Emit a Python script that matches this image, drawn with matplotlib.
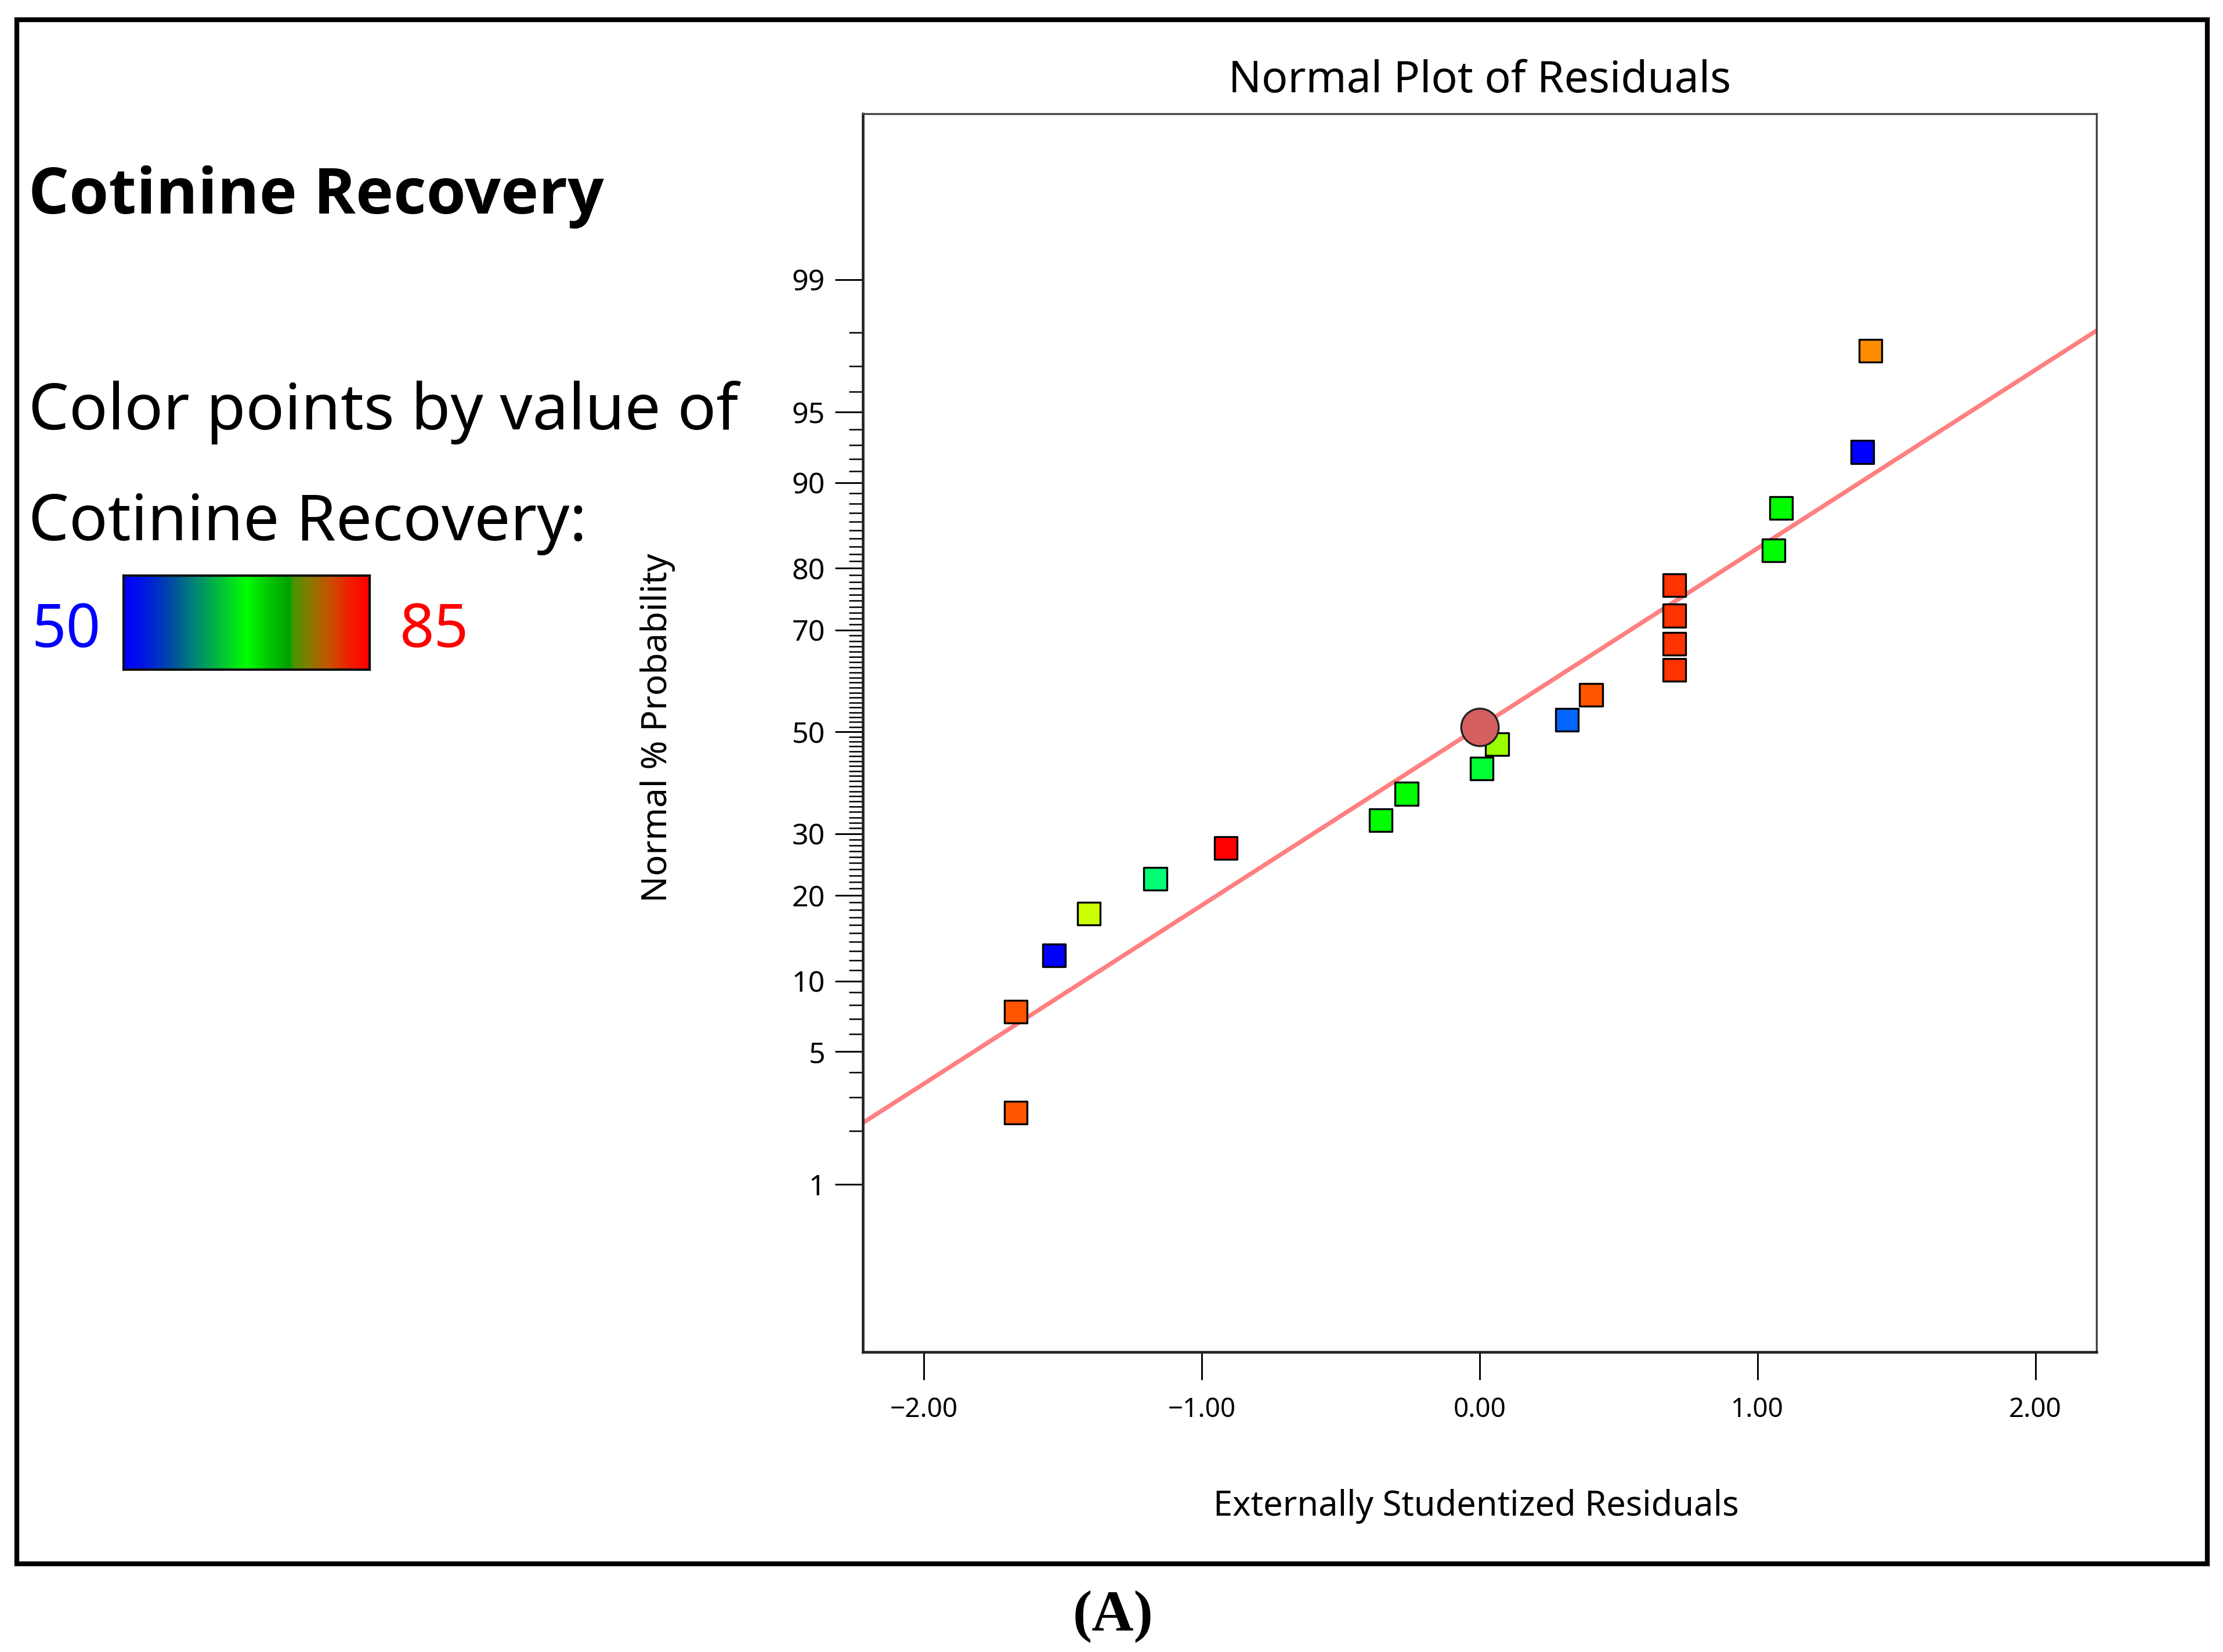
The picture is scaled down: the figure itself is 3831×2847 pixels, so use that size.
import matplotlib.pyplot as plt
import numpy as np
from matplotlib.colors import LinearSegmentedColormap
from matplotlib.patches import Rectangle
from statistics import NormalDist

# residuals (sorted) and their normal % probability
residuals = [-1.670, -1.670, -1.532, -1.407, -1.167, -0.914, -0.355, -0.263, 0.008, 0.063,
             0.315, 0.401, 0.701, 0.701, 0.701, 0.701, 1.058, 1.085, 1.378, 1.407]
probability = [2.5, 7.5, 12.5, 17.5, 22.5, 27.5, 32.5, 37.5, 42.5, 47.5,
               52.5, 57.5, 62.5, 67.5, 72.5, 77.5, 82.5, 87.5, 92.5, 97.5]
point_colors = ['#ff5500', '#ff5500', '#0000ff', '#ccff00', '#00ff77', '#ff0000',
                '#00ff00', '#00ff00', '#00ff33', '#99ff00', '#0066ff', '#ff5500',
                '#ff3300', '#ff3300', '#ff3300', '#ff3300', '#00ff00', '#00ff00',
                '#0000ff', '#ff8c00']

# highlighted point and the fitted reference line (normal score = a + b*x)
highlight_x = 0.0
highlight_p = 51.0
fit_intercept = 0.026
fit_slope = 0.918

y_major = [1, 5, 10, 20, 30, 50, 70, 80, 90, 95, 99]
y_minor = [p for p in range(2, 99) if p not in y_major]
x_ticks = [-2, -1, 0, 1, 2]
x_ticklabels = ['\u22122.00', '\u22121.00', '0.00', '1.00', '2.00']

cbar_low, cbar_high = 50, 85
cbar_nodes = [(0.0, (0, 0, 255)), (0.1, (0, 30, 220)), (0.2, (0, 80, 160)),
              (0.3, (0, 140, 110)), (0.39, (0, 190, 60)), (0.5, (0, 255, 0)),
              (0.58, (0, 205, 0)), (0.675, (0, 160, 0)), (0.69, (70, 150, 0)),
              (0.76, (140, 120, 0)), (0.84, (200, 80, 0)), (0.92, (240, 30, 0)),
              (1.0, (255, 0, 0))]

nd = NormalDist()
def probit(p):
    return nd.inv_cdf(p / 100.0)

plt.rcParams['font.family'] = ['Noto Sans', 'DejaVu Sans']

fig = plt.figure(figsize=(3831 / 300, 2847 / 300), dpi=300)

# outer frame
fig.patches.append(Rectangle((0.0077, 0.0534), 0.9853, 0.9346, transform=fig.transFigure,
                             fill=False, lw=2.0, ec='black'))

ax = fig.add_axes([0.3881, 0.1816, 0.5550, 0.7496])
ax.set_xlim(-2.22, 2.22)
ax.set_ylim(-3.19, 3.18)

xs = np.array([-2.22, 2.22])
ax.plot(xs, fit_intercept + fit_slope * xs, color='#ff8080', lw=1.8, zorder=2)

ax.scatter(residuals, [probit(p) for p in probability], marker='s', s=9.4 ** 2,
           c=point_colors, edgecolors='black', linewidths=0.8, zorder=3)
ax.scatter([highlight_x], [probit(highlight_p)], marker='o', s=15.5 ** 2,
           c='#d46060', edgecolors='#222222', linewidths=0.8, zorder=4)

ax.set_yticks([probit(p) for p in y_major])
ax.set_yticklabels([str(p) for p in y_major])
ax.set_yticks([probit(p) for p in y_minor], minor=True)
ax.set_xticks(x_ticks)
ax.set_xticklabels(x_ticklabels)
ax.tick_params(axis='y', which='major', length=11.5, width=0.7, pad=4, labelsize=12)
ax.tick_params(axis='y', which='minor', length=5.8, width=0.6)
ax.tick_params(axis='x', which='major', length=11.5, width=0.7, pad=7, labelsize=11)
for side in ['left', 'bottom']:
    ax.spines[side].set_linewidth(1.1)
    ax.spines[side].set_color('#222222')
for side in ['top', 'right']:
    ax.spines[side].set_linewidth(0.8)
    ax.spines[side].set_color('#444444')

fig.text(0.6656, 0.944, 'Normal Plot of Residuals', ha='center', va='baseline', fontsize=18)
fig.text(0.664, 0.0826, 'Externally Studentized Residuals', ha='center', va='baseline', fontsize=14.3)
fig.text(0.296, 0.5594, 'Normal % Probability', ha='center', va='center', rotation=90, fontsize=14.5)

# left-hand legend
fig.text(0.0128, 0.8709, 'Cotinine Recovery', ha='left', va='baseline', fontsize=26.4,
         fontweight='bold', family=['Open Sans', 'DejaVu Sans'])
fig.text(0.0128, 0.740, 'Color points by value of', ha='left', va='baseline', fontsize=26.5)
fig.text(0.0128, 0.673, 'Cotinine Recovery:', ha='left', va='baseline', fontsize=26.5)
fig.text(0.0141, 0.6084, str(cbar_low), ha='left', va='baseline', fontsize=25, color='#0000ff')
fig.text(0.1797, 0.6084, str(cbar_high), ha='left', va='baseline', fontsize=25, color='#ff0000')

cmap = LinearSegmentedColormap.from_list(
    'rec', [(f, tuple(c / 255 for c in rgb)) for f, rgb in cbar_nodes])
cax = fig.add_axes([0.0556, 0.5947, 0.1106, 0.0568])
cax.imshow(np.linspace(0, 1, 512)[None, :], aspect='auto', cmap=cmap, extent=(0, 1, 0, 1))
cax.set_xticks([])
cax.set_yticks([])
for s in cax.spines.values():
    s.set_linewidth(1.0)
    s.set_color('#111111')

fig.text(0.5006, 0.0215, '(A)', ha='center', va='center', fontsize=24, fontweight='bold',
         family=['Liberation Serif', 'DejaVu Serif'])

fig.savefig('out.png', dpi=300)
